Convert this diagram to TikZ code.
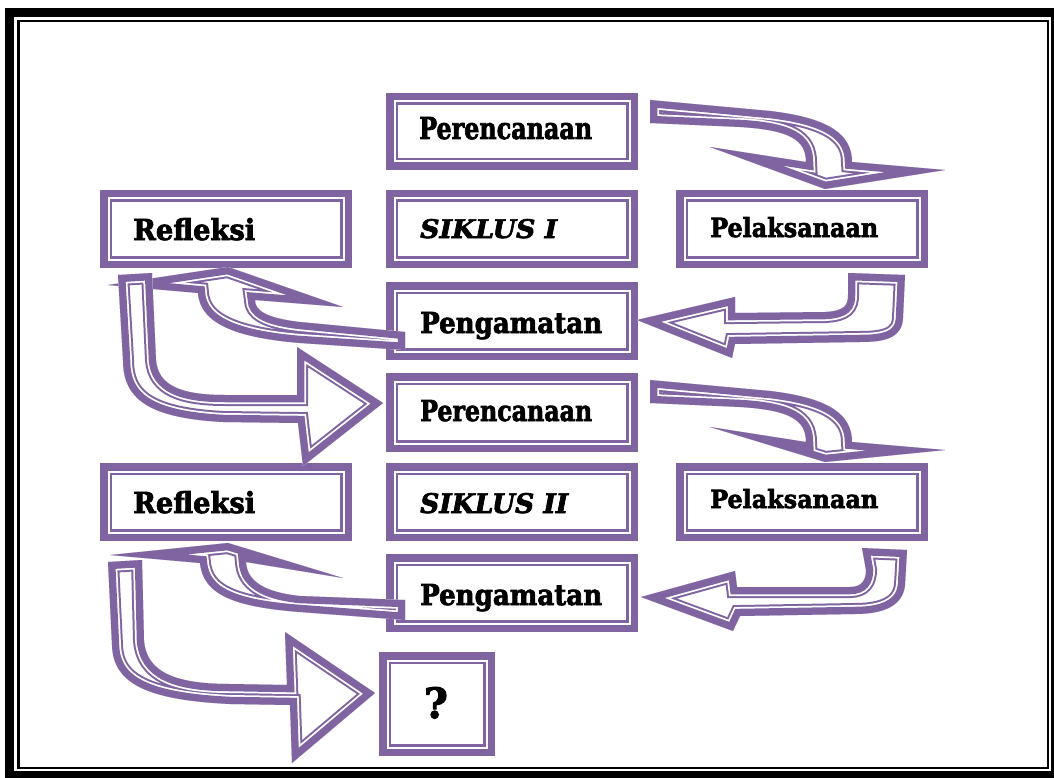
\documentclass[tikz,border=0pt]{standalone}
\usepackage{fontspec}
\setmainfont{DejaVu Serif}[BoldFeatures={FakeBold=2.5},BoldItalicFeatures={FakeBold=2.5}]
\usepackage{graphicx}
\definecolor{pur}{HTML}{8064A2}
\tikzset{
  boxnode/.style={draw=pur, line width=7.5pt, inner sep=0pt, fill=white,
    path picture={\draw[pur, line width=2.5pt]
      ([shift={(7pt,-7pt)}]path picture bounding box.north west) rectangle
      ([shift={(-7pt,7pt)}]path picture bounding box.south east);}},
  lbl/.style={inner sep=0pt, font=\bfseries},
}
\newcommand\pbox[5]{\node[boxnode, minimum width={#4-#2-7.5}, minimum height={#5-#3-7.5}] (#1) at ({(#2+#4)/2},{(#3+#5)/2}) {};}
\newcommand\hollowarrow[1]{%
  \fill[white] #1;
  \begin{scope}
    \clip #1;
    \draw[pur, line width=22pt, line join=miter] #1;
    \draw[white, line width=18pt, line join=miter] #1;
    \draw[pur, line width=14.5pt, line join=miter] #1;
  \end{scope}}
\begin{document}
\begin{tikzpicture}[x=1pt, y=-1pt]
\useasboundingbox (0,0) rectangle (1054,778);
\fill[white] (0,0) rectangle (1054,778);
% page frame
\draw[black, line width=9pt] (9.5,12.5) rectangle (1055,775);
\draw[black, line width=2.5pt] (18.5,21) rectangle (1048,768);
% boxes
\pbox{per1}{386}{93}{638}{170}
\pbox{sik1}{386}{190}{638}{268}
\pbox{pel1}{676}{190}{928}{268}
\pbox{ref1}{100}{190}{352}{268}
\pbox{pen1}{386}{282}{638}{360}
\pbox{per2}{386}{373}{638}{452}
\pbox{ref2}{100}{463}{352}{541}
\pbox{sik2}{386}{463}{638}{541}
\pbox{pel2}{676}{463}{928}{541}
\pbox{pen2}{386}{554}{638}{632}
\pbox{q}{379}{652}{495}{756}
% arrows, cycle I
\hollowarrow{(650,100) -- (770,111) .. controls (830,118) and (852,135) .. (852,162) -- (945,170) -- (825,189) -- (710,147) -- (806,162) .. controls (806,140) and (790,130) .. (740,127) -- (650,123) -- cycle}
\hollowarrow{(848,273) -- (905,275) -- (903,318) .. controls (902,338) and (885,342) .. (860,342) -- (735,344) -- (732,358) -- (637,320) -- (735,297) -- (735,313) -- (825,312) .. controls (845,311) and (848,305) .. (848,295) -- cycle}
\hollowarrow{(405,332) -- (300,322) .. controls (265,318) and (255,310) .. (255,300) -- (343,307) -- (228,267) -- (108,285) -- (198,293) .. controls (200,325) and (240,338) .. (300,343) -- (405,350) -- cycle}
\hollowarrow{(118,275) -- (152,273) -- (156,360) .. controls (158,385) and (180,395) .. (225,395) -- (297,395) -- (297,347) -- (383,403) -- (303,466) -- (298,423) -- (223,422) .. controls (150,418) and (123,400) .. (123,360) -- cycle}
% arrows, cycle II
\hollowarrow{(650,380) -- (770,391) .. controls (830,398) and (852,415) .. (852,442) -- (945,450) -- (825,462) -- (710,427) -- (806,442) .. controls (806,420) and (790,410) .. (740,407) -- (650,403) -- cycle}
\hollowarrow{(862,548) -- (907,550) -- (905,585) .. controls (903,605) and (885,614) .. (855,614) -- (740,616) -- (733,631) -- (641,597) -- (735,571) -- (737,587) -- (850,587) .. controls (862,587) and (866,580) .. (866,570) -- cycle}
\hollowarrow{(405,600) -- (300,596) .. controls (262,592) and (247,580) .. (246,562) -- (343,578) -- (228,543) -- (110,555) -- (200,563) .. controls (203,595) and (235,607) .. (300,612) -- (405,620) -- cycle}
\hollowarrow{(108,562) -- (142,560) -- (144,640) .. controls (146,672) and (175,684) .. (230,684) -- (287,685) -- (285,632) -- (375,693) -- (292,763) -- (290,705) -- (230,704) .. controls (150,700) and (113,685) .. (112,645) -- cycle}
% labels
\node[lbl, anchor=base west] (tper1) at (419,139) {\resizebox{173pt}{22pt}{Perencanaan}};
\node[lbl, anchor=base west] (tsik1) at (420,238) {\resizebox{137pt}{19pt}{\itshape SIKLUS I}};
\node[lbl, anchor=base west] (tpel1) at (710,237) {\resizebox{168pt}{20pt}{Pelaksanaan}};
\node[lbl, anchor=base west] (tref1) at (133,240) {\resizebox{122pt}{22pt}{Refleksi}};
\node[lbl, anchor=base west] (tpen1) at (420,333) {\resizebox{182pt}{21pt}{Pengamatan}};
\node[lbl, anchor=base west] (tper2) at (420,421) {\resizebox{172pt}{21pt}{Perencanaan}};
\node[lbl, anchor=base west] (tref2) at (133,513) {\resizebox{122pt}{22pt}{Refleksi}};
\node[lbl, anchor=base west] (tsik2) at (420,513) {\resizebox{148pt}{20pt}{\itshape SIKLUS II}};
\node[lbl, anchor=base west] (tpel2) at (710,508) {\resizebox{168pt}{19pt}{Pelaksanaan}};
\node[lbl, anchor=base west] (tpen2) at (420,605) {\resizebox{182pt}{21pt}{Pengamatan}};
\node[lbl, anchor=base] (tq) at (436,718) {\resizebox{24pt}{31pt}{?}};
\end{tikzpicture}
\end{document}
